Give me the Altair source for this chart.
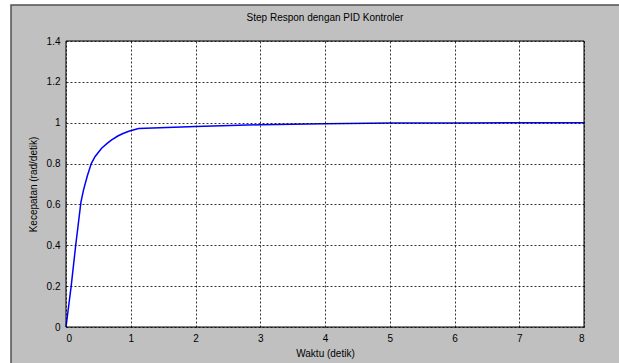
import altair as alt
import pandas as pd

# Data
t_vals = [0, 0.08, 0.15, 0.23, 0.27, 0.33, 0.39, 0.45, 0.55, 0.64, 0.7, 0.8, 0.88, 0.97, 1.12, 2, 3, 4, 5, 6, 7, 8]
y_vals = [0, 0.2, 0.4, 0.61, 0.67, 0.74, 0.8, 0.835, 0.875, 0.9, 0.915, 0.935, 0.947, 0.958, 0.972, 0.982, 0.99, 0.995, 0.998, 0.999, 1.0, 1.0]
x_ticks = [0, 1, 2, 3, 4, 5, 6, 7, 8]
y_ticks = [0, 0.2, 0.4, 0.6, 0.8, 1.0, 1.2, 1.4]

df = pd.DataFrame({"t": t_vals, "y": y_vals})

W, H = 518, 286
FONT = "Liberation Sans"

xs = alt.X("t:Q", scale=alt.Scale(domain=[0, 8], nice=False),
           axis=alt.Axis(values=x_ticks, title="Waktu (detik)", format="~g",
                         grid=True, domain=False, ticks=False, labelPadding=6,
                         titlePadding=5, zindex=2))
ys = alt.Y("y:Q", scale=alt.Scale(domain=[0, 1.4], nice=False),
           axis=alt.Axis(values=y_ticks, title="Kecepatan (rad/detik)", format="~g",
                         grid=True, domain=False, ticks=False, labelPadding=6,
                         titlePadding=8, zindex=2))

one = alt.Data(values=[{}])

bg = alt.Chart(one).mark_rect(fill="#c0c0c0", stroke="#505050", strokeWidth=1.5).encode(
    x=alt.value(-55), x2=alt.value(W + 120), y=alt.value(-36), y2=alt.value(H + 120))

plotbox = alt.Chart(one).mark_rect(fill="white", stroke="black", strokeWidth=1).encode(
    x=alt.value(0), x2=alt.value(W), y=alt.value(0), y2=alt.value(H))

line = alt.Chart(df).mark_line(color="#0000ff", strokeWidth=1.5).encode(x=xs, y=ys)

chart = alt.layer(bg, plotbox, line).properties(
    width=W, height=H,
    title=alt.TitleParams("Step Respon dengan PID Kontroler", fontSize=10,
                          font=FONT, fontWeight="normal", offset=0, dy=19,
                          color="black"),
    autosize=alt.AutoSizeParams(type="none"),
    padding={"left": 66, "top": 41, "right": 35, "bottom": 36},
    background="white",
).configure_view(stroke=None, fill=None).configure_axis(
    gridColor="black", gridDash=[2, 2], gridOpacity=0.8, gridWidth=1,
    labelFont=FONT, labelFontSize=10, labelColor="black",
    titleFont=FONT, titleFontSize=10, titleFontWeight="normal", titleColor="black",
)

chart.save("out.html", embed_options={"renderer": "svg", "actions": False})
